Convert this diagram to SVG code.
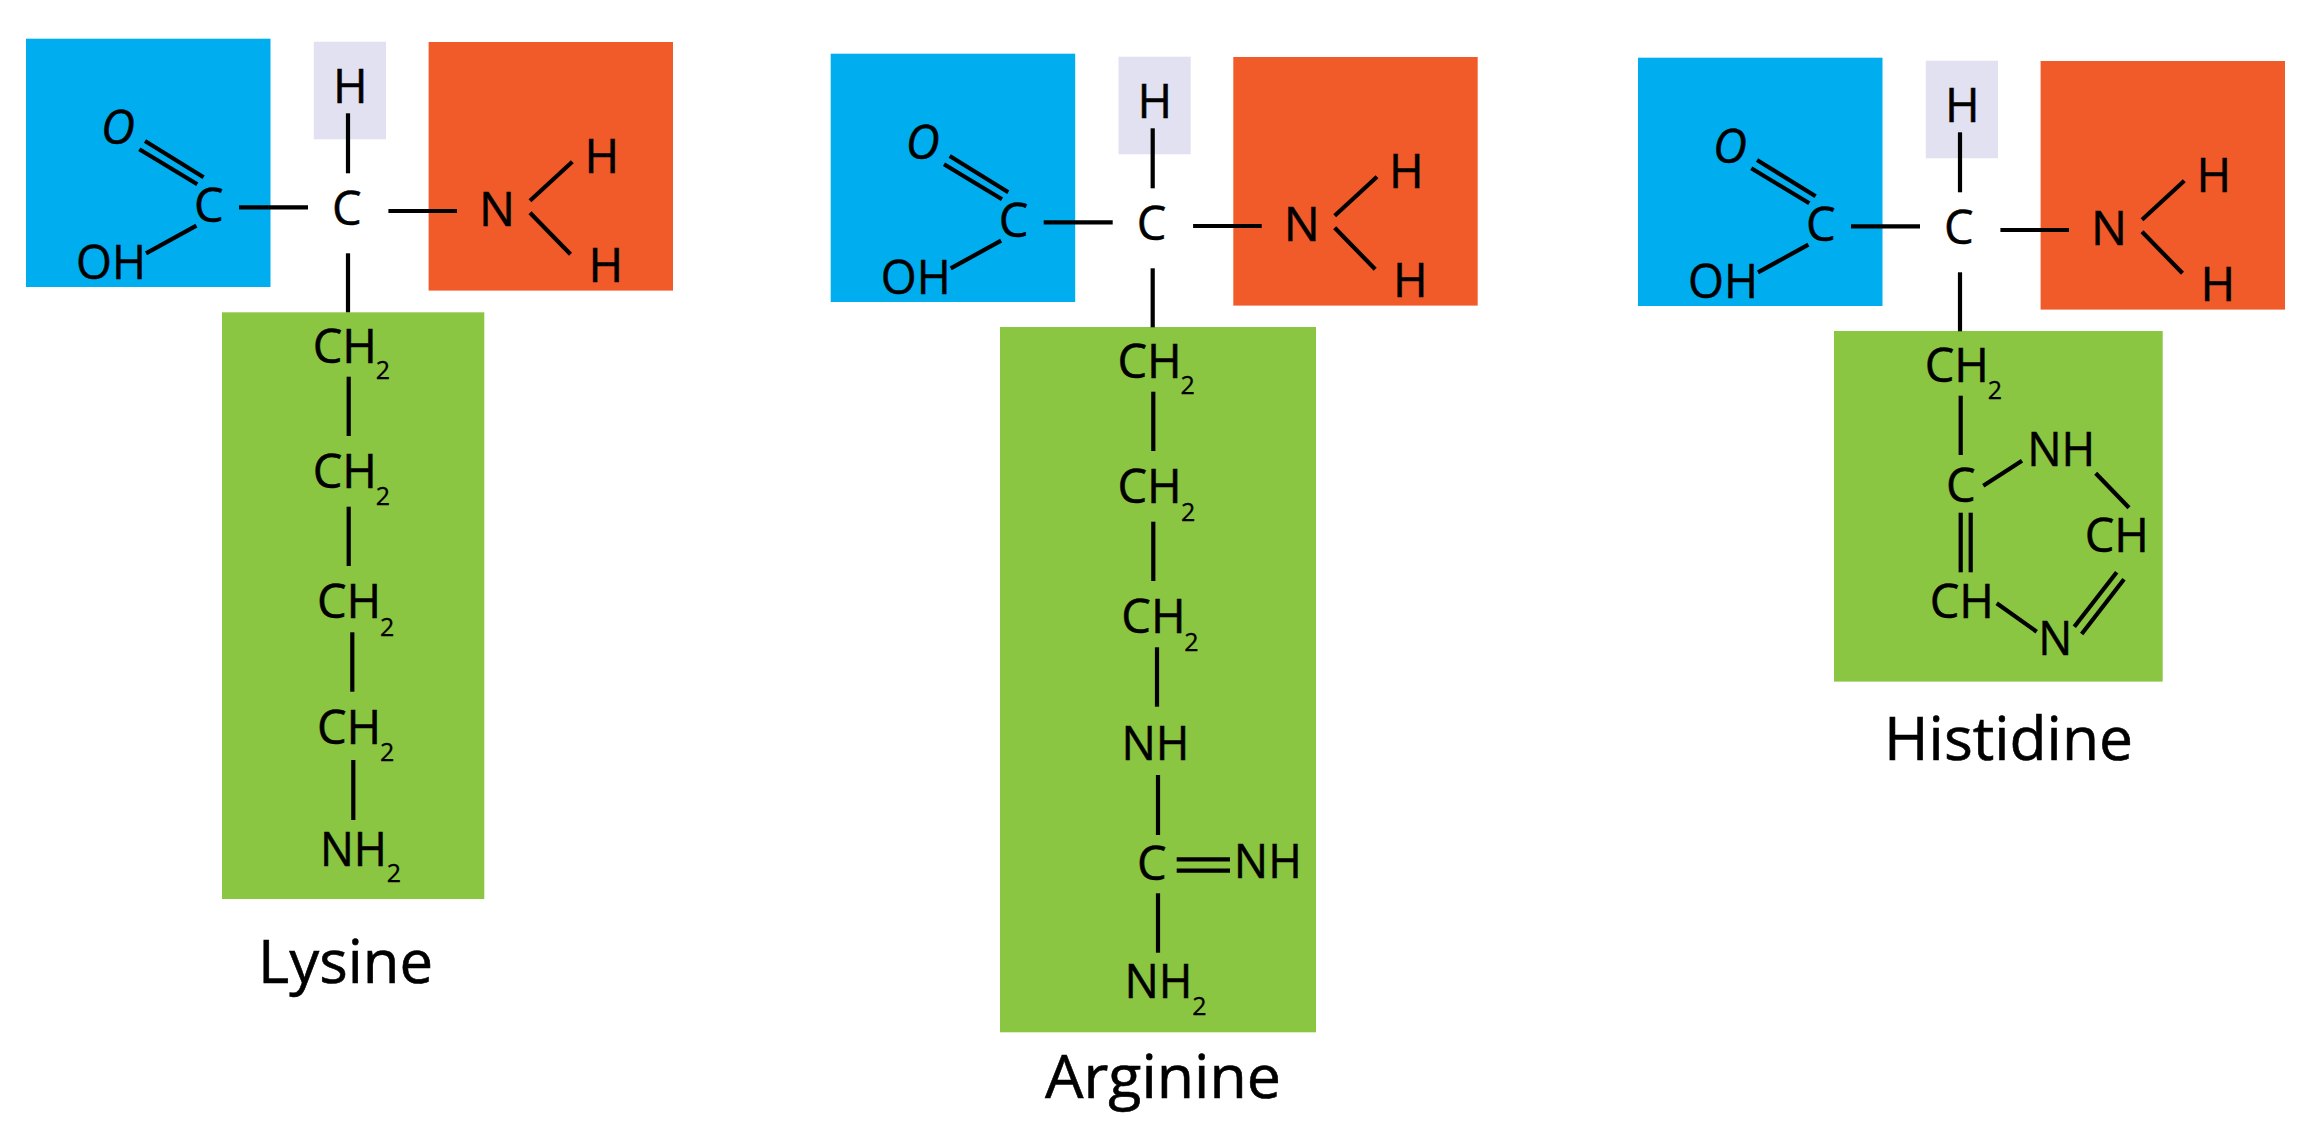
<svg xmlns="http://www.w3.org/2000/svg" width="2321" height="1138" viewBox="0 0 2321 1138">
<style>
text{font-family:"Open Sans","Noto Sans",sans-serif;font-size:47px;fill:#000;stroke:#000;stroke-width:.5}
.s{font-size:25px;stroke-width:.3}
.l{font-size:61px;stroke-width:.6}
.i{font-style:italic}
.b{fill:#00aeef}.o{fill:#f15a29}.g{fill:#8ac641}.h{fill:#e1e1f2}
#connectors line{stroke:#000;stroke-width:4.2;fill:none}
</style>
<rect width="2321" height="1138" fill="#fff"/>
<g id="lysine">
<g id="lysine-carboxyl"><rect class="b" x="26" y="38.7" width="244.5" height="248.3"/><text class="i" x="101" y="144">O</text><text x="194" y="221.7">C</text><text x="76" y="279" textLength="70" lengthAdjust="spacingAndGlyphs">OH</text></g>
<g id="lysine-hydrogen"><rect class="h" x="313.8" y="41.7" width="72.2" height="97.6"/><text x="332.9" y="102.7">H</text></g>
<g id="lysine-alpha-carbon"><text x="332" y="225">C</text></g>
<g id="lysine-amine"><rect class="o" x="428.6" y="42" width="244.4" height="248.6"/><text x="479" y="226" textLength="36" lengthAdjust="spacingAndGlyphs">N</text><text x="584.4" y="173.3">H</text><text x="588.4" y="282.3">H</text></g>
<g id="lysine-side-chain"><rect class="g" x="222" y="312.3" width="262.3" height="586.7"/>
<text x="312.7" y="363.3">CH</text><text class="s" x="375.7" y="379.3">2</text>
<text x="312.7" y="488.3">CH</text><text class="s" x="375.7" y="505.3">2</text>
<text x="317" y="618.3">CH</text><text class="s" x="380" y="635.7">2</text>
<text x="317" y="744.3">CH</text><text class="s" x="380" y="761">2</text>
<text x="320" y="866" textLength="67" lengthAdjust="spacingAndGlyphs">NH</text><text class="s" x="386.7" y="881.7">2</text></g>
<g id="lysine-label"><text class="l" x="258" y="983.3" textLength="175" lengthAdjust="spacingAndGlyphs">Lysine</text></g>
</g>
<g id="arginine">
<g id="arginine-carboxyl" transform="translate(804.7 15)"><rect class="b" x="26" y="38.7" width="244.5" height="248.3"/><text class="i" x="101" y="144">O</text><text x="194" y="221.7">C</text><text x="76" y="279" textLength="70" lengthAdjust="spacingAndGlyphs">OH</text></g>
<g id="arginine-hydrogen" transform="translate(804.7 15)"><rect class="h" x="313.8" y="41.7" width="72.2" height="97.6"/><text x="332.9" y="102.7">H</text></g>
<g id="arginine-alpha-carbon" transform="translate(804.7 15)"><text x="332" y="225">C</text></g>
<g id="arginine-amine" transform="translate(804.7 15)"><rect class="o" x="428.6" y="42" width="244.4" height="248.6"/><text x="479" y="226" textLength="36" lengthAdjust="spacingAndGlyphs">N</text><text x="584.4" y="173.3">H</text><text x="588.4" y="282.3">H</text></g>
<g id="arginine-side-chain"><rect class="g" x="1000" y="327" width="316" height="705.3"/>
<text x="1117.4" y="378.3">CH</text><text class="s" x="1180.4" y="394.3">2</text>
<text x="1117.4" y="503.3">CH</text><text class="s" x="1181" y="520.7">2</text>
<text x="1121.3" y="633.3">CH</text><text class="s" x="1184.3" y="650.7">2</text>
<text x="1121.5" y="760" textLength="68" lengthAdjust="spacingAndGlyphs">NH</text>
<text x="1137" y="880">C</text>
<text x="1233.8" y="878.3" textLength="68" lengthAdjust="spacingAndGlyphs">NH</text>
<text x="1124.5" y="997.7" textLength="68" lengthAdjust="spacingAndGlyphs">NH</text><text class="s" x="1192.3" y="1014.7">2</text></g>
<g id="arginine-label"><text class="l" x="1045" y="1097.7" textLength="236" lengthAdjust="spacingAndGlyphs">Arginine</text></g>
</g>
<g id="histidine">
<g id="histidine-carboxyl" transform="translate(1612 19)"><rect class="b" x="26" y="38.7" width="244.5" height="248.3"/><text class="i" x="101" y="144">O</text><text x="194" y="221.7">C</text><text x="76" y="279" textLength="70" lengthAdjust="spacingAndGlyphs">OH</text></g>
<g id="histidine-hydrogen" transform="translate(1612 19)"><rect class="h" x="313.8" y="41.7" width="72.2" height="97.6"/><text x="332.9" y="102.7">H</text></g>
<g id="histidine-alpha-carbon" transform="translate(1612 19)"><text x="332" y="225">C</text></g>
<g id="histidine-amine" transform="translate(1612 19)"><rect class="o" x="428.6" y="42" width="244.4" height="248.6"/><text x="479" y="226" textLength="36" lengthAdjust="spacingAndGlyphs">N</text><text x="584.4" y="173.3">H</text><text x="588.4" y="282.3">H</text></g>
<g id="histidine-side-chain"><rect class="g" x="1834" y="331" width="328.7" height="350.6"/>
<text x="1924.7" y="381.7">CH</text><text class="s" x="1987.7" y="398.7">2</text>
<text x="1946" y="501.7">C</text>
<text x="2027.2" y="466" textLength="68" lengthAdjust="spacingAndGlyphs">NH</text>
<text x="2084.7" y="552.3">CH</text>
<text x="1929.7" y="617.7">CH</text>
<text x="2038.2" y="655" textLength="34" lengthAdjust="spacingAndGlyphs">N</text></g>
<g id="histidine-label"><text class="l" x="1884" y="760" textLength="249" lengthAdjust="spacingAndGlyphs">Histidine</text></g>
</g>
<g id="connectors">
<g id="backbone-lysine">
<line x1="348" y1="113.3" x2="348" y2="173.3"/><line x1="239" y1="207.3" x2="308" y2="207.3"/><line x1="388.4" y1="211" x2="457" y2="211"/>
<line x1="530" y1="200.7" x2="572.3" y2="161.7"/><line x1="530" y1="212.7" x2="570.5" y2="254.3"/>
<line x1="145" y1="141" x2="203.6" y2="177.3"/><line x1="139.3" y1="149.3" x2="197.3" y2="184.3"/>
<line x1="196.4" y1="225.7" x2="146" y2="253.3"/><line x1="348" y1="253.3" x2="348" y2="312.3"/>
</g>
<g id="backbone-arginine" transform="translate(804.7 15)">
<line x1="348" y1="113.3" x2="348" y2="173.3"/><line x1="239" y1="207.3" x2="308" y2="207.3"/><line x1="388.4" y1="211" x2="457" y2="211"/>
<line x1="530" y1="200.7" x2="572.3" y2="161.7"/><line x1="530" y1="212.7" x2="570.5" y2="254.3"/>
<line x1="145" y1="141" x2="203.6" y2="177.3"/><line x1="139.3" y1="149.3" x2="197.3" y2="184.3"/>
<line x1="196.4" y1="225.7" x2="146" y2="253.3"/><line x1="348" y1="253.3" x2="348" y2="312.3"/>
</g>
<g id="backbone-histidine" transform="translate(1612 19)">
<line x1="348" y1="113.3" x2="348" y2="173.3"/><line x1="239" y1="207.3" x2="308" y2="207.3"/><line x1="388.4" y1="211" x2="457" y2="211"/>
<line x1="530" y1="200.7" x2="572.3" y2="161.7"/><line x1="530" y1="212.7" x2="570.5" y2="254.3"/>
<line x1="145" y1="141" x2="203.6" y2="177.3"/><line x1="139.3" y1="149.3" x2="197.3" y2="184.3"/>
<line x1="196.4" y1="225.7" x2="146" y2="253.3"/><line x1="348" y1="253.3" x2="348" y2="312.3"/>
</g>
<g id="chain-lysine">
<line x1="348.7" y1="376.7" x2="348.7" y2="436"/><line x1="348.7" y1="506.7" x2="348.7" y2="566"/><line x1="352.3" y1="632.3" x2="352.3" y2="691.7"/><line x1="353.3" y1="760" x2="353.3" y2="820"/>
</g>
<g id="chain-arginine">
<line x1="1153.3" y1="391.7" x2="1153.3" y2="451"/><line x1="1153.3" y1="521.7" x2="1153.3" y2="581"/><line x1="1157" y1="647.3" x2="1157" y2="706.7"/><line x1="1158" y1="775" x2="1158" y2="835"/><line x1="1158" y1="893.3" x2="1158" y2="952.7"/>
<line x1="1176.7" y1="859.3" x2="1230" y2="859.3"/><line x1="1176.7" y1="870.7" x2="1230" y2="870.7"/>
</g>
<g id="chain-histidine">
<line x1="1960.7" y1="395.7" x2="1960.7" y2="455"/>
<line x1="1983.3" y1="485.7" x2="2022" y2="460.7"/><line x1="2095.7" y1="473.3" x2="2129" y2="507.7"/>
<line x1="1960.7" y1="512.7" x2="1960.7" y2="572.3"/><line x1="1970.7" y1="512.7" x2="1970.7" y2="572.3"/>
<line x1="1996.7" y1="603.3" x2="2036.7" y2="631.7"/>
<line x1="2116.7" y1="572.3" x2="2074.3" y2="626.7"/><line x1="2124" y1="579.3" x2="2081.7" y2="634"/>
</g>
</g>
</svg>
